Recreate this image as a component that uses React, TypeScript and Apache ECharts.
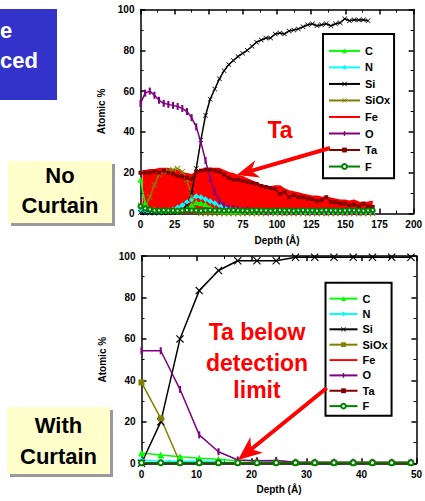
import React, { useEffect, useRef } from 'react';
import * as echarts from 'echarts';

const FONT = '"Liberation Sans", Arial, Helvetica, sans-serif';

const seriesNames = ['C', 'N', 'Si', 'SiOx', 'Fe', 'O', 'Ta', 'F'];
const seriesColors = ['#00FF00', '#00FFFF', '#000000', '#808000', '#FF0000', '#800080', '#800000', '#008000'];

// ---------- Top chart (No Curtain) ----------
const topXTicks = [0, 25, 50, 75, 100, 125, 150, 175, 200];
const topDepth = [0, 3.4, 6.8, 10.2, 13.6, 17, 20.4, 23.8, 27.2, 30.6, 34, 37.4, 40.8, 44.2, 47.6, 51, 54.4, 57.8, 61.2, 64.6, 68, 71.4, 74.8, 78.2, 81.6, 85, 88.4, 91.8, 95.2, 98.6, 102, 105.4, 108.8, 112.2, 115.6, 119, 122.4, 125.8, 129.2, 132.6, 136, 139.4, 142.8, 146.2, 149.6, 153, 156.4, 159.8, 163.2, 166.6, 170];
const topC = [16.5, 5, 2, 2, 1.5, 1.5, 1.5, 1.5, 1.5, 2, 2.5, 4, 5.5, 5, 4.5, 3, 2, 1.5, 1, 1, 0.8, 1, 1, 1.2, 1, 0.8, 1, 1.5, 1, 1, 0.8, 1, 1, 1.2, 1, 0.8, 1, 1, 1.2, 1, 0.8, 1, 1, 1.2, 1, 1, 1.5, 1, 1, 0.8, 1];
const topN = [1.5, 1, 1, 1, 1, 1.2, 1.5, 2, 3, 4, 5.5, 7, 8.5, 8, 7, 6, 5, 4, 3, 2.5, 2, 2, 1.8, 1.5, 1.5, 1.3, 1.2, 1.2, 1, 1, 1.1, 1, 1, 0.9, 1, 1, 1, 0.9, 1, 1, 1, 0.9, 1, 1, 0.9, 1, 1, 0.9, 1, 1, 1];
const topSi = [0.5, 0.3, 0.2, 0.3, 0.2, 0.3, 0.4, 0.5, 0.8, 1.5, 4, 10, 22, 36, 48, 56, 61, 66, 70, 73, 75, 77, 78.5, 80, 82, 84, 85, 86, 86, 88, 88.5, 88, 89.5, 90, 90.5, 91.5, 92.5, 93, 92, 92.5, 93, 92, 93, 93.5, 95.5, 94.5, 95, 94.8, 95, 94.5, null];
const topSiOx = [4, 3, 8, 14, 19, 20.5, 21, 21.5, 22, 20.5, 16.5, 8, 1, 0, 0, 0, 0, 0, 0, 0, 0, 0, 0, 0, 0, 0, 0, 0, 0, 0, 0, 0, 0, 0, 0, 0, 0, 0, 0, 0, 0, 0, 0, 0, 0, 0, 0, 0, 0, 0, 0];
const topFeDepth = [1.5, 3.4, 6.8, 10.2, 13.6, 17, 20.4, 23.8, 27.2, 30.6, 34, 37.4, 40.8, 44.2, 47.6, 51, 54.4, 57.8, 61.2, 64.6, 68, 71.4, 74.8, 78.2, 81.6, 85, 88.4, 91.8, 95.2, 98.6, 102, 105.4, 108.8, 112.2, 115.6, 119, 122.4, 125.8, 129.2, 132.6, 136, 139.4, 142.8, 146.2, 149.6, 153, 156.4, 159.8, 163.2, 166.6, 170];
const topFe = [21, 21, 21.5, 21.5, 22, 22, 22, 21.5, 21, 20, 19.5, 19, 20, 21.5, 22, 22, 22, 22, 21, 20, 19.5, 18.5, 18, 17, 16, 15, 14, 13.5, 13, 13.5, 13.5, 12, 11, 10.5, 10, 9.5, 9, 8.5, 8.5, 8, 8, 7.5, 7, 6.5, 6.5, 6, 6.5, 5.5, 5, 5.5, 6];
const topO = [54, 59, 60, 58, 55.5, 54, 53.5, 53, 52.5, 51.5, 50, 47, 42.5, 35, 26, 17, 10.5, 6, 4, 3, 2.4, 2, 1.6, 1.5, 1.2, 1.1, 1, 0.9, 1, 1.2, 1, 0.8, 1, 0.9, 1, 1.1, 0.8, 1, 0.9, 1, 0.8, 1, 0.9, 1, 0.8, 0.9, 1, 0.8, 0.9, 1, 0.9];
const topTa = [20, 20, 20, 20.5, 20, 21, 20, 19.5, 18.5, 18, 17.5, 17, 20.5, 21, 21.5, 21.5, 21, 20.5, 19, 17.5, 16.5, 16.5, 16, 15.5, 15, 14.5, 13.5, 13, 12.5, 12, 9.5, 10.5, 8, 9, 8, 8, 7.3, 7, 6, 6.5, 8, 5.7, 5.5, 4.9, 5, 4, 4.5, 3.5, 4.9, 3.5, 3.2];
const topF = [3.5, 2.5, 2, 1.5, 1.5, 1.6, 1.5, 1.5, 1.4, 1.5, 1.6, 1.5, 1.5, 1.4, 1.5, 1.6, 1.5, 1.5, 1.4, 1.5, 1.6, 1.5, 1.5, 1.4, 1.5, 1.6, 1.5, 1.5, 1.4, 1.5, 1.6, 1.5, 1.5, 1.4, 1.5, 1.6, 1.5, 1.5, 1.4, 1.5, 1.6, 1.5, 1.5, 1.4, 1.5, 1.6, 1.5, 1.5, 1.4, 1.5, 1.6];

// ---------- Bottom chart (With Curtain) ----------
const botXTicks = [0, 10, 20, 30, 40, 50];
const botDepth = [0, 3.5, 7, 10.5, 14, 17.5, 21, 24.5, 28, 31.5, 35, 38.5, 42, 45.5, 49];
const botC = [5, 4, 3.2, 2.4, 2, 1.2, 1.2, 1.2, 0.5, 0.5, 0.5, 0.5, 0.5, 0.5, 0.5];
const botN = [1.5, 1, 1, 1, 0.8, 0, 0.5, 0.5, 0.3, 0.3, 0.3, 0.3, 0, 0, 0.3];
const botSi = [0, 20, 60, 83.3, 93, 97.7, 97.7, 97.7, 99.4, 99.4, 99.4, 99.4, 99.4, 99.4, 99.4];
const botSiOx = [39, 21.7, 0.3, 0.3, 0.3, 0.3, 0.3, 0.3, 0.3, 0.3, 0.3, 0.3, 0.3, 0.3, 0.3];
const botFe = [0, 0, 0, 0, 0, 0, 0, 0, 0, 0, 0, 0, 0, 0, 0];
const botO = [54.3, 54.3, 35.7, 13.7, 5.6, 1.6, 1.2, 1.4, 0.5, 0.5, 0.5, 0.5, 0.5, 0.5, 0.5];
const botTa = [0, 0, 0, 0, 0, 0, 0, 0, 0, 0, 0, 0, 0, 0, 0];
const botF = [0.3, 0.3, 0.3, 0.3, 0.3, 0.3, 0.3, 0.3, 0.3, 0.3, 0.3, 0.3, 0.3, 0.3, 0.3];

const yTicks = [0, 20, 40, 60, 80, 100];

const X_PATH = 'path://M0,1L1,0L5,4L9,0L10,1L6,5L10,9L9,10L5,6L1,10L0,9L4,5Z';
const BAR_PATH = 'path://M0,0M10,10M3.5,0H6.5V10H3.5Z';
const FE_ICON = 'path://M0,0H30V2H0Z';

const pairs = (xs: number[], ys: (number | null)[]) => xs.map((x, i) => [x, ys[i]]);

const labelStyle = { fontSize: 10, fontWeight: 'bold', color: '#000', fontFamily: FONT };
const lineStyle = { color: '#000', width: 1.5 };

function makeAxis(kind: 'x' | 'y', ticks: number[], position: string, name?: string, nameGap?: number) {
  const main = !!name;
  return {
    type: 'value',
    min: ticks[0],
    max: ticks[ticks.length - 1],
    interval: ticks[1] - ticks[0],
    position,
    name: name || '',
    nameLocation: 'middle',
    nameGap: nameGap || 0,
    nameRotate: kind === 'y' ? 90 : 0,
    nameTextStyle: labelStyle,
    axisLine: { show: true, onZero: false, lineStyle },
    axisTick: { show: true, inside: true, length: 5, lineStyle },
    minorTick: { show: true, splitNumber: 2, length: 3, lineStyle: { color: '#000', width: 1 } },
    axisLabel: { show: main, margin: 6, ...labelStyle },
    splitLine: { show: false },
    minorSplitLine: { show: false },
  };
}

type Spec = { symbol: string; size: number; area?: boolean };

function buildSeries(xs: number[], feXs: number[], data: (number | null)[][], specs: Spec[], lw: number) {
  return seriesNames.map((name, i) => {
    const color = seriesColors[i];
    const s = specs[i];
    const isFe = name === 'Fe';
    return {
      name,
      type: 'line',
      data: pairs(isFe ? feXs : xs, data[i]),
      symbol: s.symbol,
      symbolSize: s.size,
      showSymbol: s.symbol !== 'none',
      lineStyle: { color, width: lw },
      itemStyle: { color, borderWidth: s.symbol === 'emptyCircle' ? 1.3 : 0 },
      areaStyle: s.area ? { color, opacity: 1 } : undefined,
      z: isFe ? 1 : 2,
      animation: false,
      connectNulls: false,
    };
  });
}

function legendCfg(left: number, top: number, padding: number[], gap: number, w: number, h: number) {
  return {
    orient: 'vertical',
    left,
    top,
    padding,
    itemGap: gap,
    itemWidth: w,
    itemHeight: h,
    borderColor: '#000',
    borderWidth: 2,
    backgroundColor: '#fff',
    selectedMode: false,
    textStyle: { fontSize: 11, fontWeight: 'bold', color: '#000', fontFamily: FONT },
    data: seriesNames.map((n) => (n === 'Fe' ? { name: n, icon: FE_ICON } : { name: n })),
  };
}

function txt(text: string, x: number, y: number, size: number, fill: string, align = 'center') {
  return {
    type: 'text',
    x,
    y,
    z: 100,
    style: {
      text,
      fill,
      font: `bold ${size}px ${FONT}`,
      align,
      textAlign: align,
      verticalAlign: 'middle',
      textVerticalAlign: 'middle',
    },
  };
}

function arrow(sx: number, sy: number, tx: number, ty: number, len: number, hw: number, notch: number) {
  const dx = tx - sx;
  const dy = ty - sy;
  const d = Math.sqrt(dx * dx + dy * dy);
  const ux = dx / d;
  const uy = dy / d;
  const nx = -uy;
  const ny = ux;
  const bx = tx - ux * len;
  const by = ty - uy * len;
  const kx = tx - ux * notch;
  const ky = ty - uy * notch;
  return [
    { type: 'line', z: 100, shape: { x1: sx, y1: sy, x2: kx, y2: ky }, style: { stroke: '#FF0000', lineWidth: 4 } },
    {
      type: 'polygon',
      z: 100,
      shape: { points: [[tx, ty], [bx + nx * hw, by + ny * hw], [kx, ky], [bx - nx * hw, by - ny * hw]] },
      style: { fill: '#FF0000' },
    },
  ];
}

function noteBox(x: number, y: number, w: number, h: number, lines: string[], ys: number[]) {
  return [
    { type: 'rect', z: 90, shape: { x: x + 3, y: y + 3, width: w, height: h }, style: { fill: '#9A9A9A' } },
    { type: 'rect', z: 91, shape: { x, y, width: w, height: h }, style: { fill: '#FFFFCC' } },
    ...lines.map((l, i) => txt(l, x + w / 2, ys[i], 22, '#000')),
  ];
}

const topSpecs: Spec[] = [
  { symbol: 'triangle', size: 6 },
  { symbol: 'diamond', size: 6 },
  { symbol: X_PATH, size: 5 },
  { symbol: X_PATH, size: 6 },
  { symbol: 'none', size: 0, area: true },
  { symbol: BAR_PATH, size: 7 },
  { symbol: 'rect', size: 4 },
  { symbol: 'emptyCircle', size: 4 },
];
const botSpecs: Spec[] = [
  { symbol: 'triangle', size: 7 },
  { symbol: 'diamond', size: 6 },
  { symbol: X_PATH, size: 8 },
  { symbol: 'rect', size: 6 },
  { symbol: 'none', size: 0 },
  { symbol: BAR_PATH, size: 7 },
  { symbol: 'rect', size: 4 },
  { symbol: 'emptyCircle', size: 5 },
];

function topOption() {
  return {
    animation: false,
    backgroundColor: '#fff',
    grid: { left: 140.5, top: 9.5, width: 274.5, height: 205.5, containLabel: false },
    xAxis: [makeAxis('x', topXTicks, 'bottom', 'Depth (Å)', 21.5), makeAxis('x', topXTicks, 'top')],
    yAxis: [makeAxis('y', yTicks, 'left', 'Atomic %', 29), makeAxis('y', yTicks, 'right')],
    legend: legendCfg(323, 34, [11.4, 4, 6.1, 5], 5.52, 31, 6),
    series: buildSeries(topDepth, topFeDepth, [topC, topN, topSi, topSiOx, topFe, topO, topTa, topF], topSpecs, 1.5),
    graphic: {
      elements: [
        { type: 'rect', z: 90, shape: { x: 0, y: 9, width: 57, height: 91 }, style: { fill: '#3333CC' } },
        txt('e', 0, 30, 22, '#FFFFFF', 'left'),
        txt('ced', 0, 60, 22, '#FFFFFF', 'left'),
        ...noteBox(8, 161, 104, 62, ['No', 'Curtain'], [175, 205]),
        txt('Ta', 280, 130, 23, '#FF0000'),
        ...arrow(330, 148, 236.7, 175, 22, 9, 15),
      ],
    },
  };
}

function botOption() {
  return {
    animation: false,
    backgroundColor: '#fff',
    grid: { left: 141.5, top: 6, width: 277, height: 207.3, containLabel: false },
    xAxis: [makeAxis('x', botXTicks, 'bottom', 'Depth (Å)', 21), makeAxis('x', botXTicks, 'top')],
    yAxis: [makeAxis('y', yTicks, 'left', 'Atomic %', 28), makeAxis('y', yTicks, 'right')],
    legend: legendCfg(325.5, 32.7, [10.4, 4, 4.2, 3], 4.36, 28, 6),
    series: buildSeries(botDepth, botDepth, [botC, botN, botSi, botSiOx, botFe, botO, botTa, botF], botSpecs, 1.5),
    graphic: {
      elements: [
        ...noteBox(7, 157, 103, 67, ['With', 'Curtain'], [175, 206.7]),
        txt('Ta below', 257, 81.7, 23, '#FF0000'),
        txt('detection', 257, 113, 23, '#FF0000'),
        txt('limit', 257, 140, 23, '#FF0000'),
        ...arrow(326.7, 138, 238, 210, 24, 10, 17),
      ],
    },
  };
}

function Chart({ top, height, option }: { top: number; height: number; option: any }) {
  const ref = useRef<HTMLDivElement>(null);
  useEffect(() => {
    if (!ref.current) return;
    const chart = echarts.init(ref.current, undefined, { renderer: 'svg' });
    chart.setOption(option);
    return () => chart.dispose();
  }, []);
  return <div ref={ref} style={{ position: 'absolute', left: 0, top, width: 425, height }} />;
}

export default function App() {
  return (
    <div style={{ position: 'fixed', left: 0, top: 0, width: 425, height: 501, background: '#fff', overflow: 'hidden' }}>
      <Chart top={0} height={250} option={topOption()} />
      <Chart top={250} height={251} option={botOption()} />
    </div>
  );
}
